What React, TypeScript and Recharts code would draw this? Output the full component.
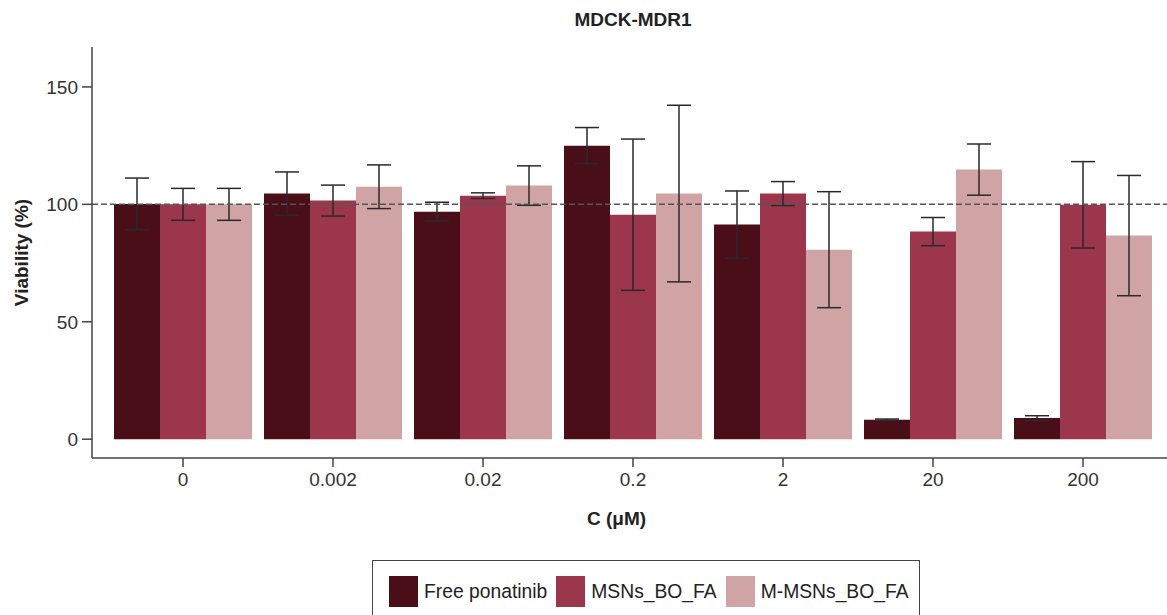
import React from 'react';
import { ComposedChart, Bar, ErrorBar, XAxis, YAxis, ReferenceLine, Label } from 'recharts';

const concentrations = ['0', '0.002', '0.02', '0.2', '2', '20', '200'];

const freePonatinib = [100.2, 104.6, 96.9, 125.0, 91.4, 8.3, 9.0];
const freePonatinibErr = [11.0, 9.2, 4.0, 7.7, 14.3, 0.3, 1.0];

const msnsBoFa = [100.0, 101.6, 103.7, 95.6, 104.6, 88.4, 99.8];
const msnsBoFaErr = [6.8, 6.6, 1.2, 32.2, 5.1, 6.0, 18.4];

const mMsnsBoFa = [100.0, 107.5, 108.0, 104.6, 80.7, 114.8, 86.7];
const mMsnsBoFaErr = [6.8, 9.3, 8.4, 37.6, 24.7, 10.9, 25.6];

const yTicks = [0, 50, 100, 150];

const series = [
  { key: 'free', err: 'freeErr', name: 'Free ponatinib', color: '#4a0e18' },
  { key: 'msns', err: 'msnsErr', name: 'MSNs_BO_FA', color: '#9c364c' },
  { key: 'mmsns', err: 'mmsnsErr', name: 'M-MSNs_BO_FA', color: '#d0a3a4' },
];

const data = concentrations.map((c, i) => ({
  c,
  free: freePonatinib[i],
  freeErr: freePonatinibErr[i],
  msns: msnsBoFa[i],
  msnsErr: msnsBoFaErr[i],
  mmsns: mMsnsBoFa[i],
  mmsnsErr: mMsnsBoFaErr[i],
}));

const FONT = '"Liberation Sans", Arial, Helvetica, sans-serif';
const tickStyle = { fontSize: 19, fill: '#333', fontFamily: FONT };

export default function App() {
  return (
    <div style={{ position: 'absolute', left: 0, top: 0, width: 1167, height: 615, background: '#fff', fontFamily: FONT }}>
      <div
        style={{
          position: 'absolute',
          left: 533,
          width: 200,
          top: 9,
          textAlign: 'center',
          fontSize: 19,
          fontWeight: 'bold',
          color: '#222',
        }}
      >
        MDCK-MDR1
      </div>
      <ComposedChart
        width={1167}
        height={615}
        data={data}
        margin={{ top: 47, right: 0, left: 0, bottom: 82 }}
        barCategoryGap={6}
        barGap={0}
      >
        <XAxis
          dataKey="c"
          height={75}
          padding={{ left: 16, right: 9 }}
          tick={tickStyle}
          tickSize={9}
          tickMargin={6}
          stroke="#444"
          strokeWidth={1.5}
        >
          <Label
            value="C (μM)"
            position="insideBottom"
            offset={8}
            dx={-13}
            style={{ fontSize: 19, fontWeight: 'bold', fill: '#222', fontFamily: FONT }}
          />
        </XAxis>
        <YAxis
          width={92}
          domain={[-8, 167]}
          ticks={yTicks}
          allowDataOverflow
          tick={tickStyle}
          tickSize={10}
          tickMargin={4}
          stroke="#444"
          strokeWidth={1.5}
        >
          <Label
            value="Viability (%)"
            angle={-90}
            position="insideLeft"
            offset={21}
            style={{ fontSize: 19, fontWeight: 'bold', fill: '#222', fontFamily: FONT, textAnchor: 'middle' }}
          />
        </YAxis>
        {series.map((s) => (
          <Bar key={s.key} dataKey={s.key} name={s.name} fill={s.color} isAnimationActive={false}>
            <ErrorBar dataKey={s.err} width={12} stroke="#2a2a2a" strokeWidth={1.5} />
          </Bar>
        ))}
        <ReferenceLine y={100} stroke="#555" strokeDasharray="6 3" strokeWidth={1.5} />
      </ComposedChart>
      <div
        style={{
          position: 'absolute',
          left: 372,
          top: 560,
          width: 548,
          height: 70,
          border: '1px solid #444',
          boxSizing: 'border-box',
          display: 'flex',
          alignItems: 'flex-start',
          paddingLeft: 16,
          paddingTop: 15,
          fontSize: 19.3,
          color: '#222',
          whiteSpace: 'nowrap',
        }}
      >
        {series.map((s) => (
          <div key={s.key} style={{ display: 'flex', alignItems: 'center', marginRight: 9, flexShrink: 0 }}>
            <div style={{ width: 29, height: 31, background: s.color, marginRight: 6, flexShrink: 0 }} />
            <span>{s.name}</span>
          </div>
        ))}
      </div>
    </div>
  );
}
